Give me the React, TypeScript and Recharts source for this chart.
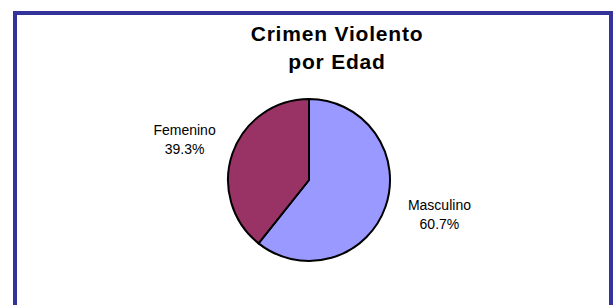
import React from "react";
import { PieChart, Pie, Cell } from "recharts";

const categories = ["Masculino", "Femenino"];
const values = [60.7, 39.3];
const colors = ["#9999FF", "#993366"];
const titleLines = ["Crimen Violento", "por Edad"];

const data = categories.map((name, i) => ({ name, value: values[i] }));

const RAD = Math.PI / 180;

const renderLabel = (props: any) => {
  const { cx, cy, midAngle, outerRadius, name, value } = props;
  const c = Math.cos(-midAngle * RAD);
  const s = Math.sin(-midAngle * RAD);
  const x = cx + c * (outerRadius + 54) + 3;
  const y = cy + s * (outerRadius + 33);
  return (
    <text
      x={x}
      y={y}
      textAnchor="middle"
      fontFamily="'Liberation Sans', Arial, sans-serif"
      fontSize={14}
      fill="#000"
    >
      <tspan x={x} dy={-7.5}>{name}</tspan>
      <tspan x={x} dy={19}>{value.toFixed(1)}%</tspan>
    </text>
  );
};

export default function App() {
  return (
    <div style={{ position: "absolute", left: 0, top: 0, width: 613, height: 305, background: "#fff", overflow: "hidden" }}>
      <div
        style={{
          position: "absolute",
          left: 13,
          top: 11,
          width: 600,
          height: 320,
          border: "4px solid #333399",
          boxSizing: "border-box",
        }}
      />
      <div style={{ position: "absolute", left: 0, top: 0 }}>
        <PieChart width={613} height={305} margin={{ top: 0, right: 0, bottom: 0, left: 0 }}>
          <Pie
            data={data}
            dataKey="value"
            nameKey="name"
            cx={309}
            cy={180}
            outerRadius={81}
            startAngle={90}
            endAngle={-270}
            stroke="#000"
            strokeWidth={2}
            isAnimationActive={false}
            label={renderLabel}
            labelLine={false}
          >
            {data.map((d, i) => (
              <Cell key={d.name} fill={colors[i]} />
            ))}
          </Pie>
        </PieChart>
      </div>
      <svg width={613} height={305} style={{ position: "absolute", left: 0, top: 0, pointerEvents: "none" }}>
        {titleLines.map((t, i) => (
          <text
            key={t}
            x={337}
            y={41 + i * 28}
            textAnchor="middle"
            fontFamily="'Liberation Sans', Arial, sans-serif"
            fontWeight="bold"
            fontSize={21}
            letterSpacing={0.8}
            fill="#000"
          >
            {t}
          </text>
        ))}
      </svg>
    </div>
  );
}
